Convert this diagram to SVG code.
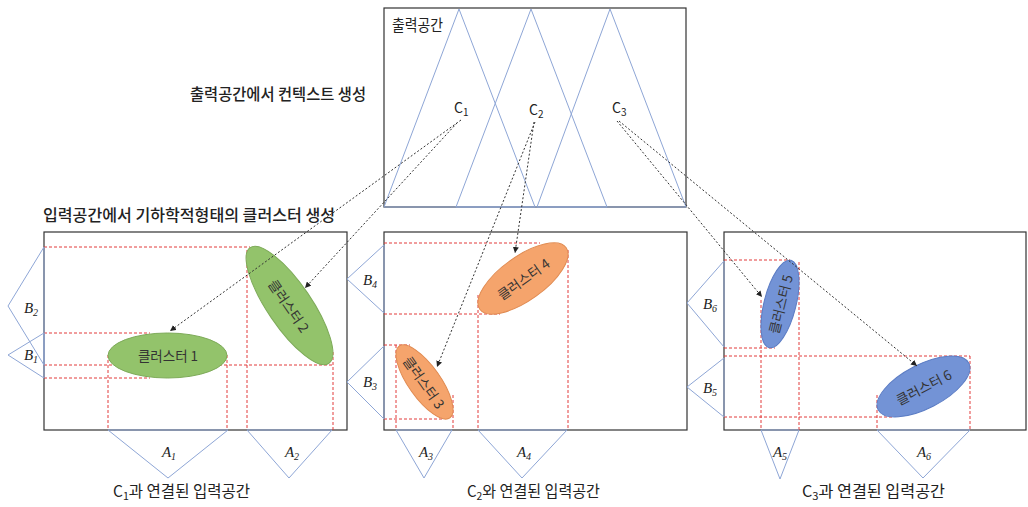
<svg xmlns="http://www.w3.org/2000/svg" width="1028" height="507" viewBox="0 0 1028 507">
<defs>
<style>
.box{fill:#fff;stroke:#333;stroke-width:1.2}
.mf{fill:none;stroke:#8ea6d6;stroke-width:1}
.rd{stroke:#e23a3a;stroke-width:1;stroke-dasharray:3 2;fill:none}
.cn{stroke:#333;stroke-width:1;stroke-dasharray:2 2;fill:none;marker-end:url(#ah)}
.kr{font-family:"Noto Sans CJK KR","Noto Sans",sans-serif;fill:#222}
.tt{font-weight:500}
.lab{font-family:"Liberation Serif",serif;font-style:italic;font-size:15px;fill:#222;text-anchor:middle}
.g{fill:#93c36b;stroke:#7daa58}
.o{fill:#f5a46c;stroke:#e08a50}
.b{fill:#7393d6;stroke:#5b7cc4}
.ct{font-size:13.5px;text-anchor:middle;dominant-baseline:central;fill:#333}
</style>
<marker id="ah" viewBox="0 0 6 6" refX="6" refY="3" markerWidth="6" markerHeight="6" orient="auto" markerUnits="userSpaceOnUse"><path d="M0,0 L6,3 L0,6 z" fill="#222"/></marker>
</defs>
<rect width="1028" height="507" fill="#fff"/>

<g id="output-space">
<rect class="box" x="384" y="8" width="302" height="199"/>
<polygon class="mf" points="384,207 459,9 535,207"/>
<polygon class="mf" points="456,207 531,9 607,207"/>
<polygon class="mf" points="537,207 610,9 686,207"/>
<text class="kr" x="392" y="31" font-size="16" textLength="51" lengthAdjust="spacingAndGlyphs">출력공간</text>
<text class="kr" x="454" y="113" font-size="14">C<tspan font-size="10" dy="3">1</tspan></text>
<text class="kr" x="529" y="115" font-size="14">C<tspan font-size="10" dy="3">2</tspan></text>
<text class="kr" x="612" y="113" font-size="14">C<tspan font-size="10" dy="3">3</tspan></text>
</g>

<g id="titles">
<text class="kr tt" x="190" y="100" font-size="16" textLength="176" lengthAdjust="spacingAndGlyphs">출력공간에서 컨텍스트 생성</text>
<text class="kr tt" x="43" y="221" font-size="16" textLength="292" lengthAdjust="spacingAndGlyphs">입력공간에서 기하학적형태의 클러스터 생성</text>
</g>

<g id="input-space-1">
<rect class="box" x="44" y="232" width="303" height="198"/>
<line class="rd" x1="44" y1="247" x2="250" y2="247"/>
<line class="rd" x1="44" y1="333" x2="150" y2="333"/>
<line class="rd" x1="44" y1="365" x2="333" y2="365"/>
<line class="rd" x1="44" y1="378" x2="150" y2="378"/>
<line class="rd" x1="108" y1="355" x2="108" y2="430"/>
<line class="rd" x1="227" y1="355" x2="227" y2="430"/>
<line class="rd" x1="247" y1="250" x2="247" y2="430"/>
<line class="rd" x1="333" y1="352" x2="333" y2="430"/>
<polygon class="mf" points="44,247 8,306 44,365"/>
<polygon class="mf" points="44,333 8,355 44,378"/>
<polygon class="mf" points="108,430 168,478 228,430"/>
<polygon class="mf" points="247,430 289,478 332,430"/>
<text class="lab" x="31" y="313">B<tspan font-size="10" dy="3">2</tspan></text>
<text class="lab" x="31" y="360">B<tspan font-size="10" dy="3">1</tspan></text>
<text class="lab" x="169" y="457">A<tspan font-size="10" dy="3">1</tspan></text>
<text class="lab" x="292" y="457">A<tspan font-size="10" dy="3">2</tspan></text>
<text class="kr" x="113" y="497" font-size="16" textLength="137" lengthAdjust="spacingAndGlyphs">C<tspan font-size="11" dy="3">1</tspan><tspan dy="-3">과 연결된 입력공간</tspan></text>
</g>

<g id="cluster-1">
<ellipse class="g" cx="167.5" cy="355.5" rx="59.5" ry="22.5"/>
<text class="kr ct" x="168" y="355">클러스터 1</text>
</g>
<g id="cluster-2" transform="translate(289.5,305.5) rotate(55.8)">
<ellipse class="g" cx="0" cy="0" rx="70" ry="22"/>
<text class="kr ct" x="0" y="0">클러스터 2</text>
</g>

<g id="input-space-2">
<rect class="box" x="384" y="232" width="303" height="198"/>
<line class="rd" x1="384" y1="243" x2="540" y2="243"/>
<line class="rd" x1="384" y1="314" x2="500" y2="314"/>
<line class="rd" x1="384" y1="345" x2="410" y2="345"/>
<line class="rd" x1="384" y1="419" x2="442" y2="419"/>
<line class="rd" x1="396" y1="345" x2="396" y2="430"/>
<line class="rd" x1="453" y1="395" x2="453" y2="430"/>
<line class="rd" x1="478" y1="295" x2="478" y2="430"/>
<line class="rd" x1="568" y1="250" x2="568" y2="430"/>
<polygon class="mf" points="384,245 347,279 384,313"/>
<polygon class="mf" points="384,346 347,382 384,419"/>
<polygon class="mf" points="396,430 424,478 452,430"/>
<polygon class="mf" points="478,430 522,478 567,430"/>
<text class="lab" x="370" y="285">B<tspan font-size="10" dy="3">4</tspan></text>
<text class="lab" x="370" y="387">B<tspan font-size="10" dy="3">3</tspan></text>
<text class="lab" x="426" y="457">A<tspan font-size="10" dy="3">3</tspan></text>
<text class="lab" x="524" y="457">A<tspan font-size="10" dy="3">4</tspan></text>
<text class="kr" x="467" y="497" font-size="16" textLength="133" lengthAdjust="spacingAndGlyphs">C<tspan font-size="11" dy="3">2</tspan><tspan dy="-3">와 연결된 입력공간</tspan></text>
</g>

<g id="cluster-3" transform="translate(424.5,382) rotate(54.75)">
<ellipse class="o" cx="0" cy="0" rx="44" ry="16"/>
<text class="kr ct" x="0" y="0">클러스터 3</text>
</g>
<g id="cluster-4" transform="translate(523,278.5) rotate(-35.4)">
<ellipse class="o" cx="0" cy="0" rx="53" ry="22"/>
<text class="kr ct" x="0" y="0">클러스터 4</text>
</g>

<g id="input-space-3">
<rect class="box" x="724" y="232" width="302" height="198"/>
<line class="rd" x1="724" y1="260" x2="790" y2="260"/>
<line class="rd" x1="724" y1="348" x2="775" y2="348"/>
<line class="rd" x1="724" y1="356" x2="970" y2="356"/>
<line class="rd" x1="724" y1="417" x2="893" y2="417"/>
<line class="rd" x1="761" y1="300" x2="761" y2="430"/>
<line class="rd" x1="799" y1="262" x2="799" y2="430"/>
<line class="rd" x1="877" y1="395" x2="877" y2="430"/>
<line class="rd" x1="970" y1="356" x2="970" y2="430"/>
<polygon class="mf" points="724,261 687,303 724,347"/>
<polygon class="mf" points="724,358 687,387 724,417"/>
<polygon class="mf" points="761,430 780,479 799,430"/>
<polygon class="mf" points="877,430 923,478 970,430"/>
<text class="lab" x="710" y="309">B<tspan font-size="10" dy="3">6</tspan></text>
<text class="lab" x="710" y="393">B<tspan font-size="10" dy="3">5</tspan></text>
<text class="lab" x="780" y="457">A<tspan font-size="10" dy="3">5</tspan></text>
<text class="lab" x="924" y="457">A<tspan font-size="10" dy="3">6</tspan></text>
<text class="kr" x="802" y="497" font-size="16" textLength="143" lengthAdjust="spacingAndGlyphs">C<tspan font-size="11" dy="3">3</tspan><tspan dy="-3">과 연결된 입력공간</tspan></text>
</g>

<g id="cluster-5" transform="translate(780,304) rotate(-75.9)">
<ellipse class="b" cx="0" cy="0" rx="45" ry="16"/>
<text class="kr ct" x="0" y="0">클러스터 5</text>
</g>
<g id="cluster-6" transform="translate(923.5,386.5) rotate(-27.3)">
<ellipse class="b" cx="0" cy="0" rx="51" ry="22"/>
<text class="kr ct" x="0" y="0">클러스터 6</text>
</g>

<g id="connectors">
<line class="cn" x1="461" y1="120" x2="170" y2="331"/>
<line class="cn" x1="457" y1="123" x2="305" y2="288"/>
<line class="cn" x1="535" y1="122" x2="437" y2="367"/>
<line class="cn" x1="534" y1="122" x2="515" y2="253"/>
<line class="cn" x1="617" y1="121" x2="762" y2="297"/>
<line class="cn" x1="619" y1="121" x2="917" y2="366"/>
</g>
</svg>
